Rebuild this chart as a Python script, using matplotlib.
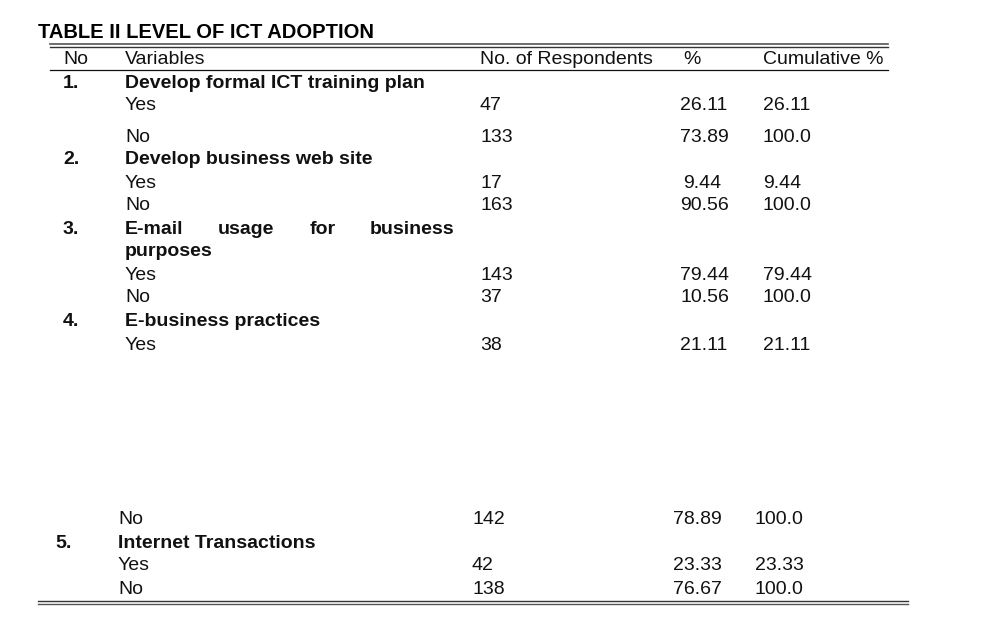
import matplotlib.pyplot as plt

plt.rcParams["font.family"] = "Liberation Sans"

title = "TABLE II LEVEL OF ICT ADOPTION"
headers = ["No", "Variables", "No. of Respondents", "%", "Cumulative %"]

# (number, variable heading)
sections = [
    ("1.", "Develop formal ICT training plan"),
    ("2.", "Develop business web site"),
    ("3.", None),  # justified two-line heading drawn word by word
    ("4.", "E-business practices"),
    ("5.", "Internet Transactions"),
]
email_words = ["E-mail", "usage", "for", "business"]
email_line2 = "purposes"

answers = ["Yes", "No", "Yes", "No", "Yes", "No", "Yes", "No", "Yes", "No"]
respondents = ["47", "133", "17", "163", "143", "37", "38", "142", "42", "138"]
percent = ["26.11", "73.89", "9.44", "90.56", "79.44", "10.56", "21.11", "78.89", "23.33", "76.67"]
cumulative = ["26.11", "100.0", "9.44", "100.0", "79.44", "100.0", "21.11", "100.0", "23.33", "100.0"]

# layout (pixel coordinates)
sec_y = [83, 160, 229, 322, 544]
sec_nx = [63, 63, 63, 63, 55]
sec_vx = [125, 125, 125, 125, 118]
row_y = [106, 137, 183, 206, 275, 298, 346, 520, 566, 589]
lower = [False] * 7 + [True] * 3

fig = plt.figure(figsize=(9.89, 6.33), dpi=100)
ax = fig.add_axes([0, 0, 1, 1])
ax.set_xlim(0, 989)
ax.set_ylim(633, 0)
ax.axis("off")

fs = 14
kw = dict(va="center", ha="left", fontsize=fs, color="#111111")

ax.text(38, 32, title, va="center", ha="left", fontsize=14.5, fontweight="bold")
ax.plot([50, 888], [44, 44], color="#555555", lw=1.2)
ax.plot([50, 888], [47, 47], color="#333333", lw=1.0)
ax.plot([50, 888], [70, 70], color="#111111", lw=0.9)
for x, h in zip([63, 125, 480, 683, 763], headers):
    ax.text(x, 59, h, **kw)

for (num, head), y, nx, vx in zip(sections, sec_y, sec_nx, sec_vx):
    ax.text(nx, y, num, fontweight="bold", **kw)
    if head is not None:
        ax.text(vx, y, head, fontweight="bold", **kw)
for x, w in zip([125, 218, 310, 370], email_words):
    ax.text(x, 229, w, fontweight="bold", **kw)
ax.text(125, 252, email_line2, fontweight="bold", **kw)

for i, (a, r, p, c, y) in enumerate(zip(answers, respondents, percent, cumulative, row_y)):
    if lower[i]:
        xs = [118, 472, 673, 755]
    else:
        xs = [125, 480, 683 if p == "9.44" else 680, 763]
    for x, t in zip(xs, [a, r, p, c]):
        ax.text(x, y, t, **kw)

ax.plot([38, 908], [601, 601], color="#333333", lw=1.0)
ax.plot([38, 908], [604, 604], color="#555555", lw=1.0)

fig.savefig("out.png", dpi=100)
